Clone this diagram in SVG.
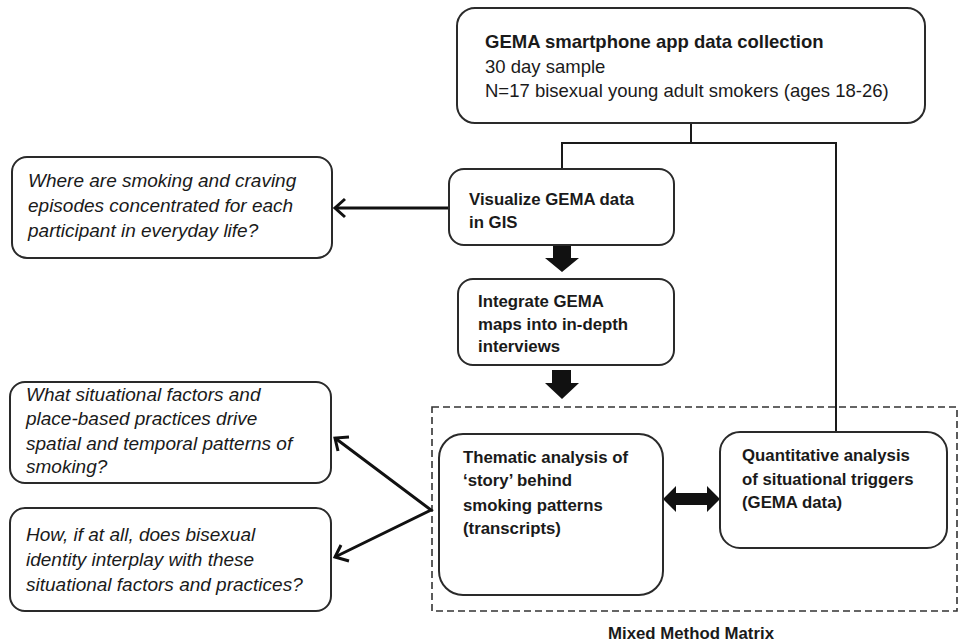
<svg xmlns="http://www.w3.org/2000/svg" width="959" height="644" viewBox="0 0 959 644">
<defs>
<style>
.box{fill:#fff;stroke:#2a2a2a;stroke-width:2}
.t{font-family:"Liberation Sans",Arial,sans-serif;fill:#1a1a1a}
.b{font-weight:bold;font-size:16.8px}
.top{font-size:18.5px}
.q{font-style:italic;font-size:19px}
.ln{fill:none;stroke:#1a1a1a;stroke-width:2}
.ar{fill:none;stroke:#111;stroke-width:3}
.hd{fill:none;stroke:#111;stroke-width:3;stroke-linejoin:miter}
.blk{fill:#111;stroke:none}
.dash{fill:none;stroke:#333;stroke-width:1.6;stroke-dasharray:7 4}
</style>
</defs>
<rect width="959" height="644" fill="#fff"/>

<g id="mixed-method-matrix">
<rect class="dash" x="432" y="407" width="525" height="204"/>
<text class="t b" x="691" y="639" text-anchor="middle">Mixed Method Matrix</text>
</g>

<g id="connectors">
<polyline class="ln" points="691,123 691,143"/>
<polyline class="ln" points="562,169 562,143 836,143 836,432"/>
<line class="ar" x1="448" y1="208" x2="335" y2="208"/>
<polyline class="hd" points="345,199 335,208 345,217"/>
<polyline class="ar" points="335,438 431,510 335,557"/>
<polyline class="hd" points="349,437 335,438 338,451"/>
<polyline class="hd" points="341,545 335,557 349,561"/>
<polygon class="blk" points="553,245 571,245 571,258 579,258 562,272 545,258 553,258"/>
<polygon class="blk" points="552,370 571,370 571,383 579,383 562,399 545,383 552,383"/>
<polygon class="blk" points="663,499 676,486 676,493 707,493 707,486 720,499 707,512 707,505 676,505 676,512"/>
</g>

<g id="gema-collection">
<rect class="box" x="457" y="8" width="468" height="115" rx="18"/>
<text class="t top" x="485" y="48"><tspan font-weight="bold">GEMA smartphone app data collection</tspan><tspan x="485" y="73">30 day sample</tspan><tspan x="485" y="97">N=17 bisexual young adult smokers (ages 18-26)</tspan></text>
</g>

<g id="visualize">
<rect class="box" x="449" y="169" width="225" height="76" rx="15"/>
<text class="t b" x="469" y="205">Visualize GEMA data<tspan x="469" y="228">in GIS</tspan></text>
</g>

<g id="integrate">
<rect class="box" x="458" y="279" width="216" height="86" rx="15"/>
<text class="t b" x="478" y="307">Integrate GEMA<tspan x="478" y="330">maps into in-depth</tspan><tspan x="478" y="352">interviews</tspan></text>
</g>

<g id="thematic">
<rect class="box" x="439" y="434" width="224" height="161" rx="24"/>
<text class="t b" x="463" y="463">Thematic analysis of<tspan x="463" y="486">‘story’ behind</tspan><tspan x="463" y="511">smoking patterns</tspan><tspan x="463" y="534">(transcripts)</tspan></text>
</g>

<g id="quantitative">
<rect class="box" x="720" y="432" width="227" height="116" rx="20"/>
<text class="t b" x="742" y="461">Quantitative analysis<tspan x="742" y="485">of situational triggers</tspan><tspan x="742" y="508">(GEMA data)</tspan></text>
</g>

<g id="q-where">
<rect class="box" x="12" y="157" width="320" height="101" rx="15"/>
<text class="t q" x="28" y="187">Where are smoking and craving<tspan x="28" y="212">episodes concentrated for each</tspan><tspan x="28" y="237">participant in everyday life?</tspan></text>
</g>

<g id="q-what">
<rect class="box" x="10" y="382" width="321" height="101" rx="15"/>
<text class="t q" x="26" y="401">What situational factors and<tspan x="26" y="425">place-based practices drive</tspan><tspan x="26" y="450">spatial and temporal patterns of</tspan><tspan x="26" y="473">smoking?</tspan></text>
</g>

<g id="q-how">
<rect class="box" x="10" y="508" width="321" height="103" rx="15"/>
<text class="t q" x="26" y="541">How, if at all, does bisexual<tspan x="26" y="566">identity interplay with these</tspan><tspan x="26" y="591">situational factors and practices?</tspan></text>
</g>
</svg>
